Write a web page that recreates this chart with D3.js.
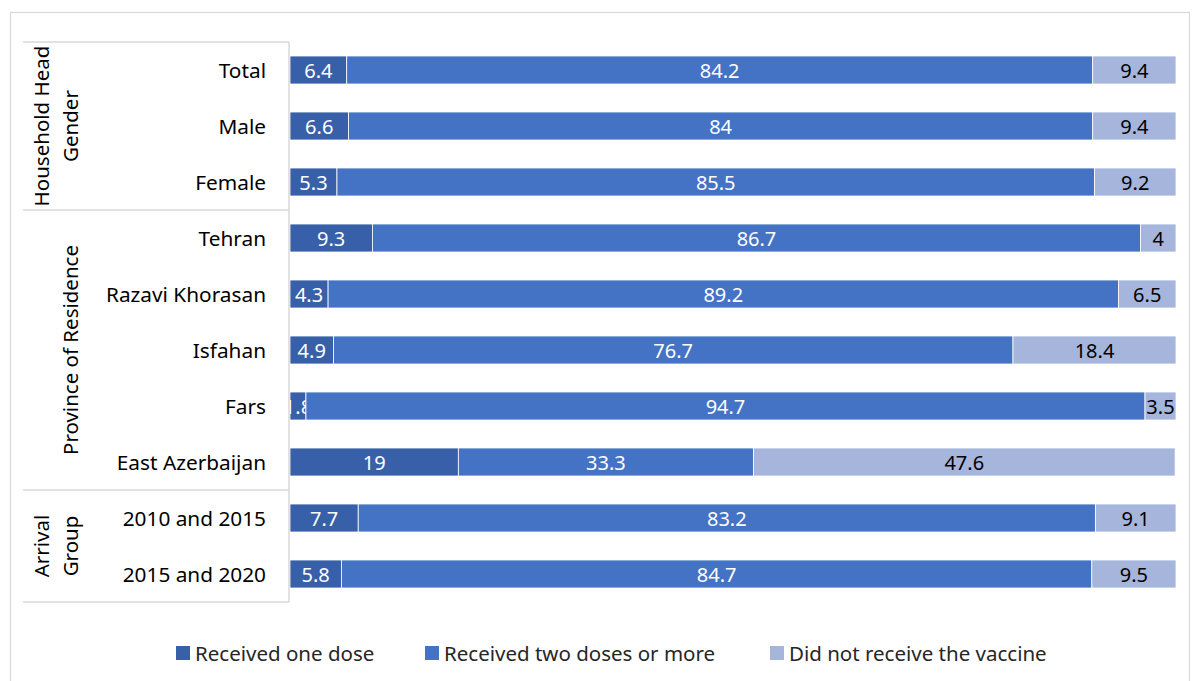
<!DOCTYPE html>
<html>
<head>
<meta charset="utf-8">
<script src="https://cdn.jsdelivr.net/npm/d3@7"></script>
<style>
  body { margin: 0; background: #fff; }
  svg { display: block; font-family: "Noto Sans", "Open Sans", sans-serif; }
</style>
</head>
<body>
<div id="chart"></div>
<script>
// категории и группы
const categories = ["Total", "Male", "Female", "Tehran", "Razavi Khorasan", "Isfahan", "Fars", "East Azerbaijan", "2010 and 2015", "2015 and 2020"];
const groupNames = [["Household Head", "Gender"], ["Province of Residence"], ["Arrival", "Group"]];
const groupSizes = [3, 5, 2];

// серии
const seriesNames = ["Received one dose", "Received two doses or more", "Did not receive the vaccine"];
const oneDose = [6.4, 6.6, 5.3, 9.3, 4.3, 4.9, 1.8, 19, 7.7, 5.8];
const twoDoses = [84.2, 84, 85.5, 86.7, 89.2, 76.7, 94.7, 33.3, 83.2, 84.7];
const noVaccine = [9.4, 9.4, 9.2, 4, 6.5, 18.4, 3.5, 47.6, 9.1, 9.5];
const colors = ["#3760a9", "#4472c4", "#a6b5dc"];
const labelColors = ["#fff", "#fff", "#000"];

const W = 1192, H = 681;
const svg = d3.select("#chart").append("svg")
    .attr("width", W).attr("height", H);

// рамка графика
svg.append("rect")
    .attr("x", 10.5).attr("y", 12.5)
    .attr("width", 1179).attr("height", 690)
    .attr("fill", "#fff").attr("stroke", "#d9d9d9").attr("stroke-width", 1.2);

const x = d3.scaleLinear().domain([0, 100]).range([290, 1176]);
const y = d3.scaleBand().domain(categories).range([42, 602]).paddingInner(0.5).paddingOuter(0.25);

const rows = categories.map((c, i) => ({ cat: c, vals: [oneDose[i], twoDoses[i], noVaccine[i]] }));
const stacked = d3.stack().keys([0, 1, 2]).value((d, k) => d.vals[k])(rows);

svg.append("clipPath").attr("id", "plot")
    .append("rect").attr("x", 290).attr("y", 0).attr("width", 886).attr("height", H);

const plot = svg.append("g").attr("clip-path", "url(#plot)");

const layers = plot.selectAll("g.layer")
    .data(stacked)
    .join("g")
    .attr("class", "layer");

layers.selectAll("rect")
    .data(d => d)
    .join("rect")
    .attr("x", d => x(d[0]))
    .attr("y", d => y(d.data.cat))
    .attr("width", d => x(d[1]) - x(d[0]))
    .attr("height", y.bandwidth())
    .attr("fill", (d, i, n) => colors[d3.select(n[i].parentNode).datum().key])
    .attr("stroke", "#fff")
    .attr("stroke-width", 0.8);

layers.selectAll("text")
    .data(d => d.map(s => ({ s, key: d.key })))
    .join("text")
    .attr("x", d => (x(d.s[0]) + x(d.s[1])) / 2)
    .attr("y", d => y(d.s.data.cat) + y.bandwidth() / 2)
    .attr("text-anchor", "middle")
    .attr("dominant-baseline", "central")
    .attr("font-size", 20)
    .attr("fill", d => labelColors[d.key])
    .text(d => d.s.data.vals[d.key]);

// ось категорий
const axisG = svg.append("g");
const lineColor = "#d9d9d9";
axisG.append("line")
    .attr("x1", 289).attr("x2", 289)
    .attr("y1", y.range()[0]).attr("y2", y.range()[1])
    .attr("stroke", lineColor).attr("stroke-width", 1.5);

let start = 0;
const bounds = [0];
groupSizes.forEach(n => { start += n; bounds.push(start); });
bounds.forEach(b => {
    const yy = y.range()[0] + b * y.step();
    axisG.append("line")
        .attr("x1", 23).attr("x2", 289)
        .attr("y1", yy).attr("y2", yy)
        .attr("stroke", lineColor).attr("stroke-width", 1.5);
});

axisG.selectAll("text.cat")
    .data(categories)
    .join("text")
    .attr("class", "cat")
    .attr("x", 266)
    .attr("y", d => y(d) + y.bandwidth() / 2)
    .attr("text-anchor", "end")
    .attr("dominant-baseline", "central")
    .attr("font-size", 20.8)
    .attr("fill", "#000")
    .text(d => d);

groupNames.forEach((lines, gi) => {
    const y0 = y.range()[0] + bounds[gi] * y.step();
    const y1 = y.range()[0] + bounds[gi + 1] * y.step();
    const cy = (y0 + y1) / 2;
    lines.forEach((t, li) => {
        const cx = 70 - (lines.length - 1 - li) * 29;
        axisG.append("text")
            .attr("transform", `translate(${cx},${cy}) rotate(-90)`)
            .attr("text-anchor", "middle")
            .attr("dominant-baseline", "central")
            .attr("font-size", 20.5)
            .attr("fill", "#000")
            .text(t);
    });
});

// легенда
const legendX = [176, 425, 770];
const legend = svg.append("g").selectAll("g")
    .data(seriesNames)
    .join("g")
    .attr("transform", (d, i) => `translate(${legendX[i]},653)`);
legend.append("rect")
    .attr("x", 0).attr("y", -7)
    .attr("width", 14).attr("height", 14)
    .attr("fill", (d, i) => colors[i]);
legend.append("text")
    .attr("x", 19).attr("y", 0)
    .attr("dominant-baseline", "central")
    .attr("font-size", 20.5)
    .attr("fill", "#262626")
    .text(d => d);
</script>
</body>
</html>
